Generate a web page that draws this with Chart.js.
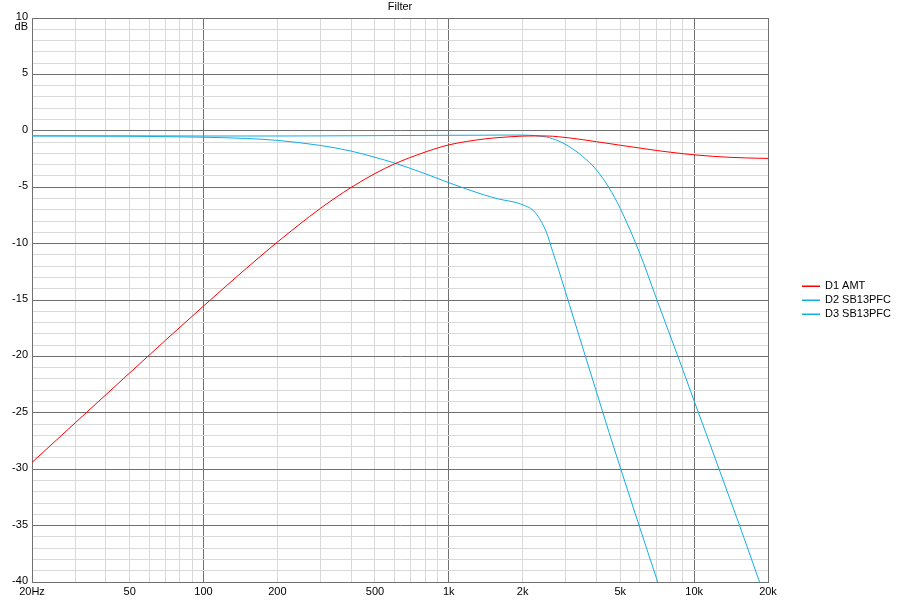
<!DOCTYPE html>
<html><head><meta charset="utf-8">
<script src="https://cdn.jsdelivr.net/npm/chart.js@4/dist/chart.umd.min.js"></script>
<style>html,body{margin:0;padding:0;background:#fff}#wrap{width:899px;height:600px}</style>
</head><body><div id="wrap"><canvas id="c" width="899" height="600"></canvas></div>
<script>
const chartTitle = 'Filter';
const yUnit = 'dB';
const seriesNames = ['D1 AMT', 'D2 SB13PFC', 'D3 SB13PFC'];
const freqs = [20,30,50,70,100,150,200,300,400,500,600,800,1000,1400,1600,2000,2250,2500,2650,2800,3100,3500,4000,4500,5000,6000,7000,8000,9000,10000,12000,14000,16000,18000,20000];
const d1AMT = [-29.4,-25.89,-21.47,-18.57,-15.54,-12.17,-9.87,-6.87,-5.02,-3.79,-2.94,-1.89,-1.25,-0.72,-0.6,-0.47,-0.45,-0.46,-0.48,-0.53,-0.63,-0.78,-0.97,-1.13,-1.28,-1.53,-1.74,-1.9,-2.03,-2.13,-2.27,-2.35,-2.4,-2.43,-2.45];
const d2SB13PFC = [-0.45,-0.46,-0.48,-0.52,-0.57,-0.68,-0.85,-1.3,-1.8,-2.35,-2.85,-3.8,-4.6,-5.7,-6.05,-6.55,-7.25,-9.0,-10.7,-12.3,-15.4,-19.1,-23.16,-26.74,-29.85,-35.16,-39.58,-43.4,null,null,null,null,null,null,null];
const d3SB13PFC = [-0.45,-0.45,-0.45,-0.45,-0.46,-0.46,-0.46,-0.45,-0.44,-0.43,-0.42,-0.41,-0.4,-0.39,-0.38,-0.38,-0.43,-0.55,-0.7,-0.9,-1.41,-2.25,-3.47,-5.06,-6.89,-10.85,-14.8,-18.2,-21.2,-23.95,-28.65,-32.65,-36.15,-39.3,-42.1];
const xGridFreqs = [20,30,40,50,60,70,80,90,100,200,300,400,500,600,700,800,900,1000,2000,3000,4000,5000,6000,7000,8000,9000,10000,20000];
const xMajorFreqs = [20,100,1000,10000,20000];
const xTickLabels = {20:'20Hz',50:'50',100:'100',200:'200',500:'500',1000:'1k',2000:'2k',5000:'5k',10000:'10k',20000:'20k'};
const yMin = -40, yMax = 10, yMinorStep = 1, yMajorStep = 5;

const colors = ['#ff0000', '#12ade3', '#12ade3'];
const FONT = {family: '"Liberation Sans", Arial, sans-serif', size: 11};
const DARK = '#707070', LIGHT = '#d9d9d9';

function pts(arr){ return freqs.map((f,i)=>({x:f,y:arr[i]})).filter(p=>p.y!==null); }

const extras = {
  id: 'extras',
  afterDraw(chart){
    const ctx = chart.ctx, a = chart.chartArea;
    ctx.save();
    ctx.font = '11px "Liberation Sans", Arial, sans-serif';
    ctx.fillStyle = '#000';
    ctx.textBaseline = 'middle';
    ctx.textAlign = 'center';
    ctx.fillText(chartTitle, (a.left + a.right) / 2, 7);
    ctx.textAlign = 'right';
    ctx.fillText(yUnit, 28, 27);
    ctx.textAlign = 'left';
    const rows = [286, 300, 314];
    seriesNames.forEach((name, i) => {
      const y = rows[i];
      ctx.fillStyle = colors[i];
      ctx.fillRect(802, y - 0.5, 18, 1.5);
      ctx.fillStyle = '#000';
      ctx.fillText(name, 825, y);
    });
    ctx.restore();
  }
};

new Chart(document.getElementById('c'), {
  type: 'line',
  data: {
    datasets: [
      {label: seriesNames[0], data: pts(d1AMT), borderColor: colors[0]},
      {label: seriesNames[1], data: pts(d2SB13PFC), borderColor: colors[1]},
      {label: seriesNames[2], data: pts(d3SB13PFC), borderColor: colors[2]}
    ].map(d => Object.assign(d, {borderWidth: 1, pointRadius: 0, fill: false, cubicInterpolationMode: 'monotone'}))
  },
  options: {
    responsive: false, animation: false, devicePixelRatio: 1,
    layout: {padding: {top: 18, right: 131, bottom: 0, left: 0}},
    plugins: {legend: {display: false}, title: {display: false}, tooltip: {enabled: false}},
    scales: {
      x: {
        type: 'logarithmic', min: 20, max: 20000,
        afterBuildTicks: s => { s.ticks = xGridFreqs.map(v => ({value: v})); },
        afterFit: s => { s.height = 18; },
        ticks: {autoSkip: false, maxRotation: 0, minRotation: 0, padding: 3, color: '#000', font: FONT,
          callback: v => xTickLabels[v] || ''},
        grid: {drawTicks: false, color: c => xMajorFreqs.includes(c.tick && c.tick.value) ? DARK : LIGHT},
        border: {color: DARK}
      },
      y: {
        type: 'linear', min: yMin, max: yMax,
        afterBuildTicks: s => { const t = []; for (let v = yMin; v <= yMax; v += yMinorStep) t.push({value: v}); s.ticks = t; },
        afterFit: s => { s.width = 32; },
        ticks: {autoSkip: false, padding: 4, labelOffset: -1, color: '#000', font: FONT,
          callback: v => (v % yMajorStep === 0) ? String(v) : ''},
        grid: {drawTicks: false, color: c => (c.tick && c.tick.value % yMajorStep === 0) ? DARK : LIGHT},
        border: {color: DARK}
      }
    }
  },
  plugins: [extras]
});
</script>
</body></html>
